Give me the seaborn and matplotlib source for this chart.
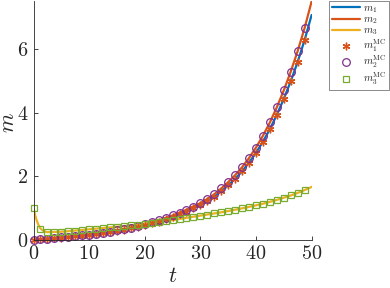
import matplotlib
matplotlib.use("Agg")
import matplotlib.pyplot as plt
import seaborn as sns
import pandas as pd

# time grid of the solution curves / Monte Carlo samples
t = [0.0, 1.25, 2.5, 3.75, 5.0, 6.25, 7.5, 8.75, 10.0, 11.25, 12.5, 13.75, 15.0, 16.25,
     17.5, 18.75, 20.0, 21.25, 22.5, 23.75, 25.0, 26.25, 27.5, 28.75, 30.0, 31.25, 32.5,
     33.75, 35.0, 36.25, 37.5, 38.75, 40.0, 41.25, 42.5, 43.75, 45.0, 46.25, 47.5, 48.75, 50.0]

m1 = [0.0, 0.015, 0.030, 0.047, 0.065, 0.084, 0.105, 0.127, 0.152, 0.178, 0.207, 0.239,
      0.273, 0.312, 0.355, 0.401, 0.453, 0.509, 0.571, 0.641, 0.717, 0.802, 0.886, 0.981,
      1.084, 1.207, 1.348, 1.518, 1.707, 1.914, 2.150, 2.424, 2.735, 3.084, 3.480, 3.933,
      4.432, 4.988, 5.601, 6.290, 7.073]

m2 = [0.0, 0.016, 0.032, 0.050, 0.069, 0.089, 0.111, 0.135, 0.161, 0.189, 0.220, 0.253,
      0.290, 0.331, 0.376, 0.425, 0.480, 0.540, 0.605, 0.680, 0.760, 0.850, 0.940, 1.040,
      1.150, 1.280, 1.430, 1.610, 1.810, 2.030, 2.280, 2.570, 2.900, 3.270, 3.690, 4.170,
      4.700, 5.290, 5.940, 6.670, 7.500]

# m3 has a fast initial transient, so its curve is sampled finer near t = 0
t3 = [0.0, 0.25, 0.5, 0.75, 1.0, 1.25, 1.5, 1.75, 2.0, 2.25, 2.5, 3.75, 5.0, 6.25, 7.5,
      8.75, 10.0, 11.25, 12.5, 13.75, 15.0, 16.25, 17.5, 18.75, 20.0, 21.25, 22.5, 23.75,
      25.0, 26.25, 27.5, 28.75, 30.0, 31.25, 32.5, 33.75, 35.0, 36.25, 37.5, 38.75, 40.0,
      41.25, 42.5, 43.75, 45.0, 46.25, 47.5, 48.75, 50.0]
m3 = [1.0, 0.80, 0.64, 0.52, 0.42, 0.35, 0.31, 0.28, 0.26, 0.245, 0.235, 0.24, 0.25,
      0.265, 0.285, 0.305, 0.325, 0.345, 0.365, 0.385, 0.405, 0.425, 0.45, 0.475, 0.50,
      0.525, 0.555, 0.585, 0.615, 0.65, 0.685, 0.72, 0.755, 0.79, 0.825, 0.86, 0.90, 0.94,
      0.985, 1.03, 1.08, 1.13, 1.19, 1.25, 1.32, 1.39, 1.47, 1.56, 1.66]

# Monte Carlo estimates (sampled every 1.25 up to 48.75)
t_mc = t[:-1]
m1_mc = [0.0, 0.015, 0.031, 0.047, 0.066, 0.085, 0.104, 0.128, 0.151, 0.179, 0.206, 0.240,
         0.272, 0.313, 0.354, 0.402, 0.452, 0.510, 0.570, 0.642, 0.716, 0.803, 0.885, 0.982,
         1.083, 1.208, 1.347, 1.519, 1.706, 1.915, 2.149, 2.425, 2.734, 3.085, 3.479, 3.934,
         4.431, 4.989, 5.600, 6.291]
m2_mc = [0.0, 0.016, 0.032, 0.050, 0.069, 0.089, 0.111, 0.135, 0.161, 0.189, 0.220, 0.253,
         0.290, 0.331, 0.376, 0.425, 0.480, 0.540, 0.605, 0.680, 0.760, 0.850, 0.940, 1.040,
         1.150, 1.280, 1.430, 1.610, 1.810, 2.030, 2.280, 2.570, 2.900, 3.270, 3.690, 4.170,
         4.700, 5.290, 5.940, 6.670]
m3_mc = [1.0, 0.35, 0.235, 0.24, 0.25, 0.265, 0.285, 0.305, 0.325, 0.345, 0.365, 0.385,
         0.405, 0.425, 0.45, 0.475, 0.50, 0.525, 0.555, 0.585, 0.615, 0.65, 0.685, 0.72,
         0.755, 0.79, 0.825, 0.86, 0.90, 0.94, 0.985, 1.03, 1.08, 1.13, 1.19, 1.25, 1.32,
         1.39, 1.47, 1.56]

x_ticks = [0, 10, 20, 30, 40, 50]
y_ticks = [0, 2, 4, 6]

sns.set_style("ticks")
plt.rcParams["font.family"] = ["cmr10", "DejaVu Serif"]
plt.rcParams["mathtext.fontset"] = "cm"
plt.rcParams["axes.formatter.use_mathtext"] = True
plt.rcParams["axes.unicode_minus"] = False

blue, orange, yellow = "#0072BD", "#D95319", "#EDB120"
purple, green = "#7E2F8E", "#77AC30"
axis_col = "#262626"

df = pd.DataFrame({"t": t, "m1": m1, "m2": m2})
df3 = pd.DataFrame({"t": t3, "m3": m3})
mc = pd.DataFrame({"t": t_mc, "m1": m1_mc, "m2": m2_mc, "m3": m3_mc})

fig = plt.figure(figsize=(3.9, 2.88), dpi=100)
ax = fig.add_axes([0.086, 0.168, 0.713, 0.827])

lw = 1.6
sns.lineplot(data=df, x="t", y="m1", ax=ax, color=blue, lw=lw, label=r"$m_1$")
sns.lineplot(data=df, x="t", y="m2", ax=ax, color=orange, lw=lw, label=r"$m_2$")
sns.lineplot(data=df3, x="t", y="m3", ax=ax, color=yellow, lw=lw, label=r"$m_3$")

ms = 5.5
sns.lineplot(data=mc, x="t", y="m1", ax=ax, color=orange, linestyle="", marker=(6, 2, 0),
             markersize=ms, markeredgecolor=orange, markeredgewidth=1.0, clip_on=False,
             label=r"$m_1^{\mathrm{MC}}$")
sns.lineplot(data=mc, x="t", y="m2", ax=ax, color=purple, linestyle="", marker="o",
             markersize=ms, markerfacecolor="none", markeredgecolor=purple,
             markeredgewidth=0.9, clip_on=False, label=r"$m_2^{\mathrm{MC}}$")
sns.lineplot(data=mc, x="t", y="m3", ax=ax, color=green, linestyle="", marker="s",
             markersize=ms - 0.7, markerfacecolor="none", markeredgecolor=green,
             markeredgewidth=0.9, clip_on=False, label=r"$m_3^{\mathrm{MC}}$")

ax.set_xlim(0, 50)
ax.set_ylim(0, 7.5)
ax.set_xticks(x_ticks)
ax.set_yticks(y_ticks)
ax.tick_params(direction="in", length=3, width=0.6, labelsize=14.5, colors=axis_col, pad=4)
for s in ["top", "right"]:
    ax.spines[s].set_visible(False)
for s in ["left", "bottom"]:
    ax.spines[s].set_color(axis_col)
    ax.spines[s].set_linewidth(0.6)

ax.set_xlabel(r"$t$", fontsize=16, color=axis_col)
ax.set_ylabel(r"$m$", fontsize=16, color=axis_col)
ax.xaxis.set_label_coords(0.5, -0.112)
ax.yaxis.set_label_coords(-0.055, 0.49)

leg = ax.legend(loc="upper right", bbox_to_anchor=(388.5 / 390, 1 - 1 / 288),
                bbox_transform=fig.transFigure, fontsize=7.5, frameon=True, fancybox=False,
                handlelength=2.7, handletextpad=0.25, labelspacing=0.0, borderpad=0.25,
                borderaxespad=0)
leg.get_frame().set_edgecolor("#555555")
leg.get_frame().set_linewidth(0.6)

fig.savefig("out.png", dpi=100)
